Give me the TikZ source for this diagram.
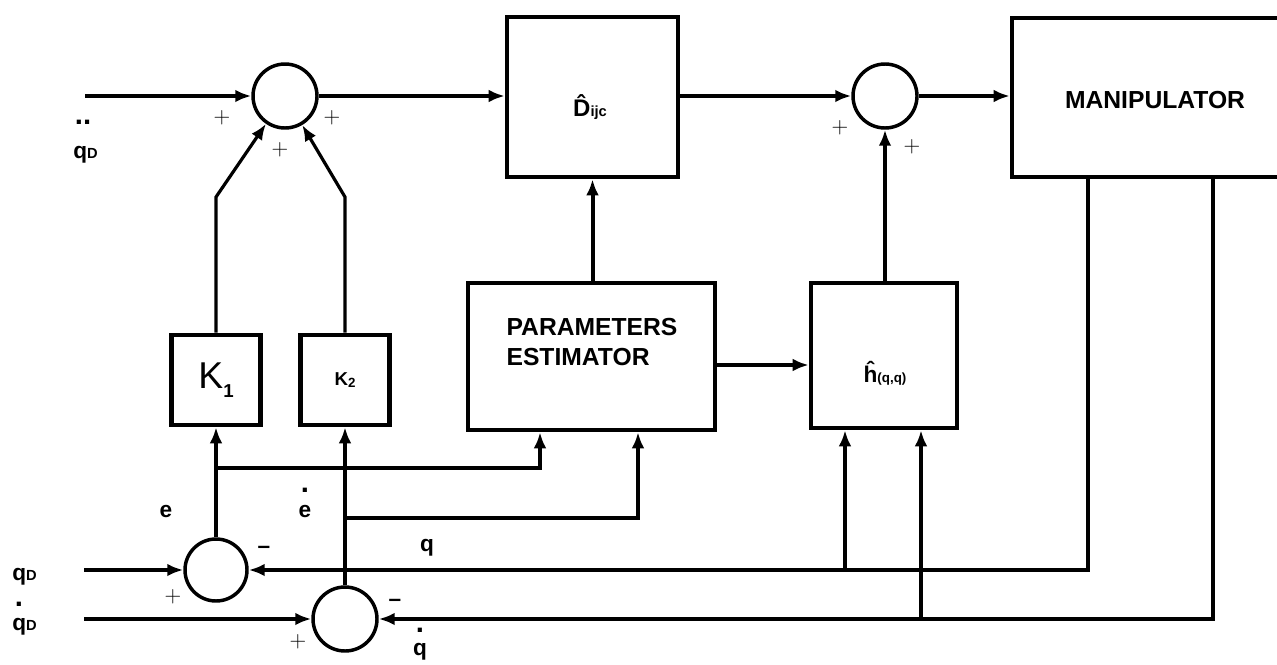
\documentclass[tikz,border=0pt]{standalone}
\usepackage{fontspec}
\setmainfont{Liberation Sans}
\usetikzlibrary{arrows.meta,calc}
\newcommand{\Dsub}{{\fontsize{11}{11}\selectfont D}}
\begin{document}
\begin{tikzpicture}[x=0.75pt,y=-0.75pt,
  box/.style={draw,line width=3.4pt,inner sep=0pt},
  sumc/.style={draw,circle,line width=2.6pt,inner sep=0pt,minimum size=48pt},
  ln/.style={line width=3pt},
  thin ln/.style={line width=2.4pt},
  arr/.style={ln,-{Latex[length=12pt,width=9.5pt]}},
  thin arr/.style={thin ln,-{Latex[length=12pt,width=9.5pt]}},
  lbl/.style={font=\fontsize{17}{20}\selectfont\bfseries,inner sep=0pt},
  dotlbl/.style={font=\fontsize{22}{24}\selectfont\bfseries,inner sep=0pt},
  sgn/.style={font=\fontsize{19}{20}\selectfont,inner sep=0pt},
  mns/.style={font=\fontsize{17}{20}\selectfont\bfseries,inner sep=0pt},
  title/.style={font=\fontsize{18.5}{23}\selectfont\bfseries,inner sep=0pt,align=left},
]
\useasboundingbox (0,0) rectangle (1277,664);

% ---- blocks
\node[box,minimum width=128.25pt,minimum height=120pt] (D) at (592.5,97) {};
\node[box,minimum width=216pt,minimum height=119.25pt] (M) at (1156,97.5) {};
\node[box,minimum width=185.25pt,minimum height=110.25pt] (PE) at (591.5,356.5) {};
\node[box,minimum width=109.5pt,minimum height=108.75pt] (H) at (884,355.5) {};
\node[box,minimum width=66.75pt,minimum height=67.5pt] (K1) at (216,380)
  {\fontsize{28}{30}\selectfont K\raisebox{-7pt}{\bfseries\fontsize{14}{14}\selectfont 1}};
\node[box,minimum width=66.75pt,minimum height=67.5pt] (K2) at (345,380)
  {\fontsize{14}{16}\selectfont\bfseries K\raisebox{-1pt}{\fontsize{10}{10}\selectfont 2}};

% ---- summing junctions
\node[sumc] (S1) at (285,96) {};
\node[sumc] (S2) at (885,96) {};
\node[sumc,minimum size=46.5pt] (S3) at (216,570) {};
\node[sumc] (S4) at (345,619) {};

% ---- block texts
\node[lbl,font=\fontsize{18}{20}\selectfont\bfseries] (Dlab) at (590,107)
  {\^{D}{\fontsize{11}{12}\selectfont ijc}};
\node[title] (Mlab) at (1155,100) {MANIPULATOR};
\node[title] (PElab) at (592,342) {PARAMETERS\\ESTIMATOR};
\node[lbl] (Hlab) at (885,373) {ĥ{\fontsize{10}{12}\selectfont (q,q)}};

% ---- coordinates
\coordinate (inQdd) at (85,96);
\coordinate (inQd) at (84,570);
\coordinate (inQdot) at (84,619);
\coordinate (k1b) at (216,197);
\coordinate (k2b) at (345,197);
\coordinate (eJ) at (216,468);
\coordinate (edJ) at (345,518);
\coordinate (peIn1) at (540,0);
\coordinate (peIn2) at (638,0);
\coordinate (peY) at (0,365);
\coordinate (qX) at (1088,0);
\coordinate (qdX) at (1213,0);
\coordinate (qB) at (845,570);
\coordinate (qdB) at (921,619);

% ---- forward path
\draw[arr] (inQdd) -- (S1.west);
\draw[arr] (S1.east) -- (S1.east -| D.west);
\draw[arr] (D.east |- S2.west) -- (S2.west);
\draw[arr] (S2.east) -- (S2.east -| M.west);
\draw[arr] (PE.north -| D.south) -- (D.south);
\draw[arr] (PE.east |- peY) -- (H.west |- peY);
\draw[arr] (S2.south |- H.north) -- (S2.south);

% ---- gains
\draw[thin arr] (K1.north) -- (k1b) -- (S1);
\draw[thin arr] (K2.north) -- (k2b) -- (S1);
\draw[arr] (S3.north) -- (K1.south);
\draw[arr] (S4.north) -- (K2.south);
\draw[arr] (eJ) -| (peIn1 |- PE.south);
\draw[arr] (edJ) -| (peIn2 |- PE.south);

% ---- inputs
\draw[arr] (inQd) -- (S3.west);
\draw[arr] (inQdot) -- (S4.west);

% ---- feedback
\draw[arr] (qX |- M.south) |- (S3.east);
\draw[arr] (qdX |- M.south) |- (S4.east);
\draw[thin arr] (qB) -- (qB |- H.south);
\draw[thin arr] (qdB) -- (qdB |- H.south);

% ---- signal labels
\node[dotlbl] (qddDots) at (83,122) {..};
\node[lbl,anchor=base west] (qddLab) at (73,158) {q\Dsub};
\node[lbl,anchor=base west] (qdLab) at (12,580) {q\Dsub};
\node[dotlbl] (qdotDot) at (19,604) {.};
\node[lbl,anchor=base west] (qdotLab) at (12,630) {q\Dsub};
\node[lbl] (eLab) at (166,512) {e};
\node[lbl] (edLab) at (305,512) {e};
\node[dotlbl] (edDot) at (305,490) {.};
\node[lbl] (qLab) at (427,548) {q};
\node[lbl] (qfLab) at (420,652) {q};
\node[dotlbl] (qfDot) at (420,630) {.};

% ---- signs
\node[sgn] (p1) at (222,118) {$+$};
\node[sgn] (p2) at (280,150) {$+$};
\node[sgn] (p3) at (332,118) {$+$};
\node[sgn] (p4) at (840,128) {$+$};
\node[sgn] (p5) at (912,147) {$+$};
\node[sgn] (p6) at (173,597) {$+$};
\node[sgn] (p7) at (298,642) {$+$};
\node[mns] (m1) at (264,550) {–};
\node[mns] (m2) at (395,603) {–};
\end{tikzpicture}
\end{document}
